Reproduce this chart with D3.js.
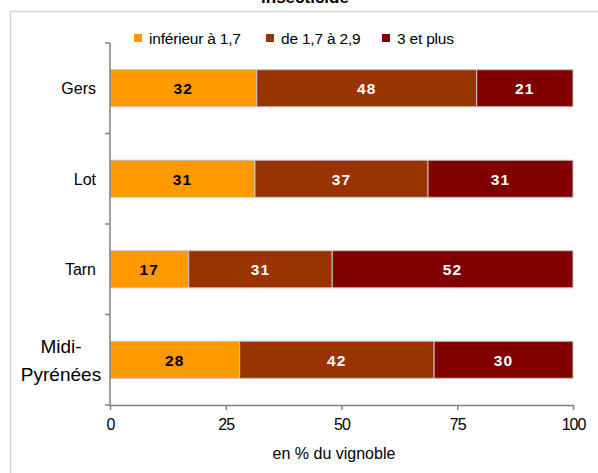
<!DOCTYPE html>
<html>
<head>
<meta charset="utf-8">
<script src="https://cdn.jsdelivr.net/npm/d3@7"></script>
<style>
  html, body { margin: 0; padding: 0; background: #ffffff; }
  svg { display: block; font-family: "Liberation Sans", Arial, sans-serif; }
</style>
</head>
<body>
<svg id="chart" width="598" height="473"></svg>
<script>
// Répartition du vignoble par classe d'IFT insecticide (en %)
const categories = ["Gers", "Lot", "Tarn", "Midi-Pyrénées"];
const seriesNames = ["inférieur à 1,7", "de 1,7 à 2,9", "3 et plus"];
const seriesColors = ["#ff9900", "#993300", "#800000"];
const labelColors = ["#000000", "#ffffff", "#ffffff"];
const lowValues = [32, 31, 17, 28];
const midValues = [48, 37, 31, 42];
const highValues = [21, 31, 52, 30];
const xTicks = [0, 25, 50, 75, 100];
const axisTitle = "en % du vignoble";
const chartTitle = "insecticide";

const seriesValues = [lowValues, midValues, highValues];
const rows = categories.map((c, i) => {
  const r = { cat: c };
  seriesNames.forEach((s, k) => { r[s] = seriesValues[k][i]; });
  return r;
});

const svg = d3.select("#chart");

// Frame around the chart area
svg.append("rect")
  .attr("x", 10.5).attr("y", 11.5)
  .attr("width", 600).attr("height", 480)
  .attr("fill", "none")
  .attr("stroke", "#d4d4d4")
  .attr("stroke-width", 1.5);

// Title (last line, partly above the top edge)
svg.append("text")
  .attr("x", 305).attr("y", 3)
  .attr("text-anchor", "middle")
  .attr("font-weight", "bold")
  .attr("font-size", 17)
  .attr("fill", "#000")
  .text(chartTitle);

const x = d3.scaleLinear().domain([0, 100]).range([110, 573]);
const y = d3.scaleBand().domain(categories).range([43, 405])
  .paddingInner(0.59).paddingOuter(0.295);

// Stacked shares, normalised so each bar fills 100 %
const stack = d3.stack().keys(seriesNames).offset(d3.stackOffsetExpand);
const layers = stack(rows);

const gLayers = svg.append("g").selectAll("g")
  .data(layers)
  .join("g")
  .attr("fill", (d, k) => seriesColors[k]);

gLayers.selectAll("rect")
  .data(d => d)
  .join("rect")
  .attr("x", d => x(d[0] * 100))
  .attr("y", d => y(d.data.cat))
  .attr("width", d => x(d[1] * 100) - x(d[0] * 100))
  .attr("height", y.bandwidth())
  .attr("stroke", "#c8c8c8")
  .attr("stroke-width", 1);

// Value labels centred in each segment
layers.forEach((layer, k) => {
  svg.append("g").selectAll("text")
    .data(layer)
    .join("text")
    .attr("x", d => x((d[0] + d[1]) / 2 * 100))
    .attr("y", d => y(d.data.cat) + y.bandwidth() / 2 + 6)
    .attr("text-anchor", "middle")
    .attr("font-size", 15.5)
    .attr("font-weight", "bold")
    .attr("letter-spacing", 1.2)
    .attr("fill", labelColors[k])
    .text(d => d.data[layer.key]);
});

// X axis
const xAxis = svg.append("g")
  .attr("transform", "translate(0,405)")
  .call(d3.axisBottom(x).tickValues(xTicks).tickSize(5).tickSizeOuter(0).tickPadding(9));
xAxis.select(".domain").attr("stroke", "#808080").attr("stroke-width", 1.5);
xAxis.selectAll(".tick line").attr("stroke", "#808080").attr("stroke-width", 1.5);
xAxis.selectAll(".tick text")
  .attr("font-family", "Liberation Sans, Arial, sans-serif")
  .attr("font-size", 16)
  .attr("letter-spacing", -1)
  .attr("fill", "#000");

// Y axis line with separators between categories
const yAxisG = svg.append("g");
yAxisG.append("line")
  .attr("x1", 110).attr("x2", 110)
  .attr("y1", y.range()[0]).attr("y2", y.range()[1])
  .attr("stroke", "#808080").attr("stroke-width", 1.5);
const bounds = categories.map(c => y(c) - y.step() * y.paddingInner() / 2);
bounds.push(y.range()[1]);
yAxisG.selectAll("line.sep")
  .data(bounds)
  .join("line")
  .attr("class", "sep")
  .attr("x1", 105).attr("x2", 110)
  .attr("y1", d => d).attr("y2", d => d)
  .attr("stroke", "#808080").attr("stroke-width", 1.5);

// Category labels
categories.forEach(c => {
  const cy = y(c) + y.bandwidth() / 2;
  if (c.includes("-")) {
    const parts = c.split("-");
    const t = svg.append("text")
      .attr("text-anchor", "middle")
      .attr("font-size", 19)
      .attr("fill", "#000");
    t.append("tspan").attr("x", 61).attr("y", cy - 7).text(parts[0] + "-");
    t.append("tspan").attr("x", 61).attr("y", cy + 21).text(parts[1]);
  } else {
    svg.append("text")
      .attr("x", 96).attr("y", cy + 6)
      .attr("text-anchor", "end")
      .attr("font-size", 16)
      .attr("fill", "#000")
      .text(c);
  }
});

// Axis title
svg.append("text")
  .attr("x", 334).attr("y", 459)
  .attr("text-anchor", "middle")
  .attr("font-size", 16)
  .attr("letter-spacing", 0)
  .attr("fill", "#000")
  .text(axisTitle);

// Legend
const legendX = [134, 266, 382];
const legend = svg.append("g");
seriesNames.forEach((s, k) => {
  legend.append("rect")
    .attr("x", legendX[k]).attr("y", 34)
    .attr("width", 8).attr("height", 8)
    .attr("fill", seriesColors[k]);
  legend.append("text")
    .attr("x", legendX[k] + 15).attr("y", 44)
    .attr("font-size", 15.5)
    .attr("letter-spacing", -0.2)
    .attr("fill", "#000")
    .text(s);
});
</script>
</body>
</html>
